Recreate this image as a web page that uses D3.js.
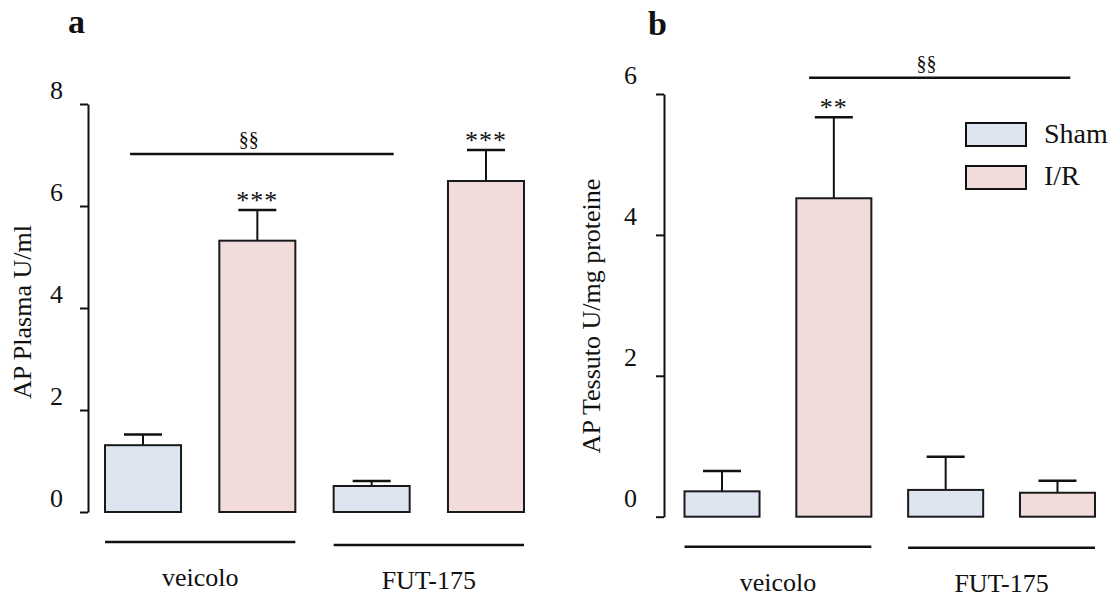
<!DOCTYPE html>
<html>
<head>
<meta charset="utf-8">
<script src="https://cdn.jsdelivr.net/npm/d3@7"></script>
<style>
  body { margin: 0; background: #fff; }
  text { font-family: "Liberation Serif", "Times New Roman", serif; fill: #111; }
</style>
</head>
<body>
<div id="my_dataviz"></div>
<script>
// values
const groups = ["veicolo", "FUT-175"];
const treatments = ["Sham", "I/R"];
const bars = ["veicolo-Sham", "veicolo-I/R", "FUT-175-Sham", "FUT-175-I/R"];
const barTreatment = ["Sham", "I/R", "Sham", "I/R"];

const plasmaMean = [1.31, 5.32, 0.51, 6.49];
const plasmaErr = [0.21, 0.60, 0.10, 0.61];
const plasmaStars = ["", "***", "", "***"];
const plasmaTicks = [0, 2, 4, 6, 8];

const tessutoMean = [0.36, 4.52, 0.38, 0.34];
const tessutoErr = [0.29, 1.15, 0.47, 0.17];
const tessutoStars = ["", "**", "", ""];
const tessutoTicks = [0, 2, 4, 6];

const colors = {"Sham": "#dce5f0", "I/R": "#f1dbdb"};

const svg = d3.select("#my_dataviz")
  .append("svg")
    .attr("width", 1118)
    .attr("height", 598);

function drawPanel(p) {
  const g = svg.append("g");

  const x = d3.scaleBand()
    .domain(bars)
    .range(p.xRange)
    .paddingInner(p.padInner)
    .paddingOuter(0);
  const bw = x.bandwidth();

  const y = d3.scaleLinear()
    .domain([0, d3.max(p.ticks)])
    .range(p.yRange);

  // Y axis
  const yAxis = g.append("g")
    .attr("transform", `translate(${p.axisX}, 0)`)
    .call(d3.axisLeft(y).tickValues(p.ticks).tickFormat(d3.format("d"))
      .tickSize(8).tickSizeOuter(0).tickPadding(p.tickPad));
  yAxis.select(".domain").attr("stroke", "#111").attr("stroke-width", 2);
  yAxis.selectAll(".tick line").attr("stroke", "#111").attr("stroke-width", 2);
  yAxis.selectAll(".tick text")
    .attr("font-size", 26)
    .attr("font-family", "Liberation Serif")
    .attr("fill", "#111")
    .attr("dy", p.tickDy);

  // y label
  g.append("text")
    .attr("transform", `translate(${p.labelX}, ${p.labelY}) rotate(-90)`)
    .style("text-anchor", "middle")
    .attr("font-size", 26)
    .text(p.yLabel);

  // panel letter
  g.append("text")
    .attr("x", p.letterX)
    .attr("y", p.letterY)
    .attr("font-size", 34)
    .attr("font-weight", "bold")
    .text(p.letter);

  // error bars (stem + cap)
  const errG = g.selectAll("errs")
    .data(bars)
    .join("g");
  errG.append("line")
    .attr("x1", d => x(d) + bw / 2)
    .attr("x2", d => x(d) + bw / 2)
    .attr("y1", (d, i) => y(p.mean[i]))
    .attr("y2", (d, i) => y(p.mean[i] + p.err[i]))
    .attr("stroke", "#111")
    .attr("stroke-width", 2);
  errG.append("line")
    .attr("x1", d => x(d) + bw / 2 - 19)
    .attr("x2", d => x(d) + bw / 2 + 19)
    .attr("y1", (d, i) => y(p.mean[i] + p.err[i]))
    .attr("y2", (d, i) => y(p.mean[i] + p.err[i]))
    .attr("stroke", "#111")
    .attr("stroke-width", 2.5);

  // bars
  g.selectAll("bars")
    .data(bars)
    .join("rect")
      .attr("x", d => x(d))
      .attr("width", bw)
      .attr("y", (d, i) => y(p.mean[i]))
      .attr("height", (d, i) => y(0) - y(p.mean[i]))
      .attr("fill", (d, i) => colors[barTreatment[i]])
      .attr("stroke", "#1a1a1a")
      .attr("stroke-width", 2);

  // stars
  g.selectAll("stars")
    .data(bars)
    .join("text")
      .attr("x", d => x(d) + bw / 2)
      .attr("y", (d, i) => y(p.mean[i] + p.err[i]) - 1)
      .style("text-anchor", "middle")
      .attr("font-size", 26)
      .attr("letter-spacing", 1)
      .attr("fill", "#333")
      .text((d, i) => p.stars[i]);

  // significance line §§
  const sx1 = x(bars[p.sig.from]) + bw * p.sig.fromF;
  const sx2 = x(bars[p.sig.to]) + bw * p.sig.toF;
  g.append("line")
    .attr("x1", sx1).attr("x2", sx2)
    .attr("y1", y(p.sig.value)).attr("y2", y(p.sig.value))
    .attr("stroke", "#111")
    .attr("stroke-width", 2.5);
  g.append("text")
    .attr("x", sx1 + 0.45 * (sx2 - sx1))
    .attr("y", y(p.sig.value) - 8)
    .style("text-anchor", "middle")
    .attr("font-size", 20)
    .attr("fill", "#333")
    .text("§§");

  // group underlines + labels
  groups.forEach(function(grp, k) {
    const a = x(bars[2 * k]);
    const b = x(bars[2 * k + 1]) + bw;
    g.append("line")
      .attr("x1", a).attr("x2", b)
      .attr("y1", y(0) + p.underline[k]).attr("y2", y(0) + p.underline[k])
      .attr("stroke", "#111")
      .attr("stroke-width", 2.5);
    g.append("text")
      .attr("x", (a + b) / 2)
      .attr("y", y(0) + p.groupLabel[k])
      .style("text-anchor", "middle")
      .attr("font-size", 26)
      .text(grp);
  });

  return g;
}

drawPanel({
  letter: "a", letterX: 68, letterY: 33,
  yLabel: "AP Plasma U/ml", labelX: 31, labelY: 312,
  xRange: [105, 524], padInner: 0.335,
  yRange: [512, 104], axisX: 88, tickPad: 17, tickDy: "-0.2em",
  ticks: plasmaTicks, mean: plasmaMean, err: plasmaErr, stars: plasmaStars,
  sig: {from: 0, fromF: 0.33, to: 2, toF: 0.79, value: 7.02},
  underline: [30, 33], groupLabel: [74, 77]
});

drawPanel({
  letter: "b", letterX: 648, letterY: 35,
  yLabel: "AP Tessuto U/mg proteine", labelX: 600, labelY: 316,
  xRange: [684.5, 1095], padInner: 0.329,
  yRange: [516.7, 94], axisX: 664, tickPad: 19, tickDy: "-0.4em",
  ticks: tessutoTicks, mean: tessutoMean, err: tessutoErr, stars: tessutoStars,
  sig: {from: 1, fromF: 0.17, to: 3, toF: 0.67, value: 6.23},
  underline: [30, 31], groupLabel: [74, 75]
});

// legend
const legend = svg.append("g");
legend.selectAll("legRect")
  .data(treatments)
  .join("rect")
    .attr("x", 966)
    .attr("y", (d, i) => 123 + i * 43)
    .attr("width", 60)
    .attr("height", 23)
    .attr("fill", d => colors[d])
    .attr("stroke", "#111")
    .attr("stroke-width", 2);
legend.selectAll("legText")
  .data(treatments)
  .join("text")
    .attr("x", 1044)
    .attr("y", (d, i) => 143 + i * 42)
    .attr("font-size", 28)
    .text(d => d);
</script>
</body>
</html>
